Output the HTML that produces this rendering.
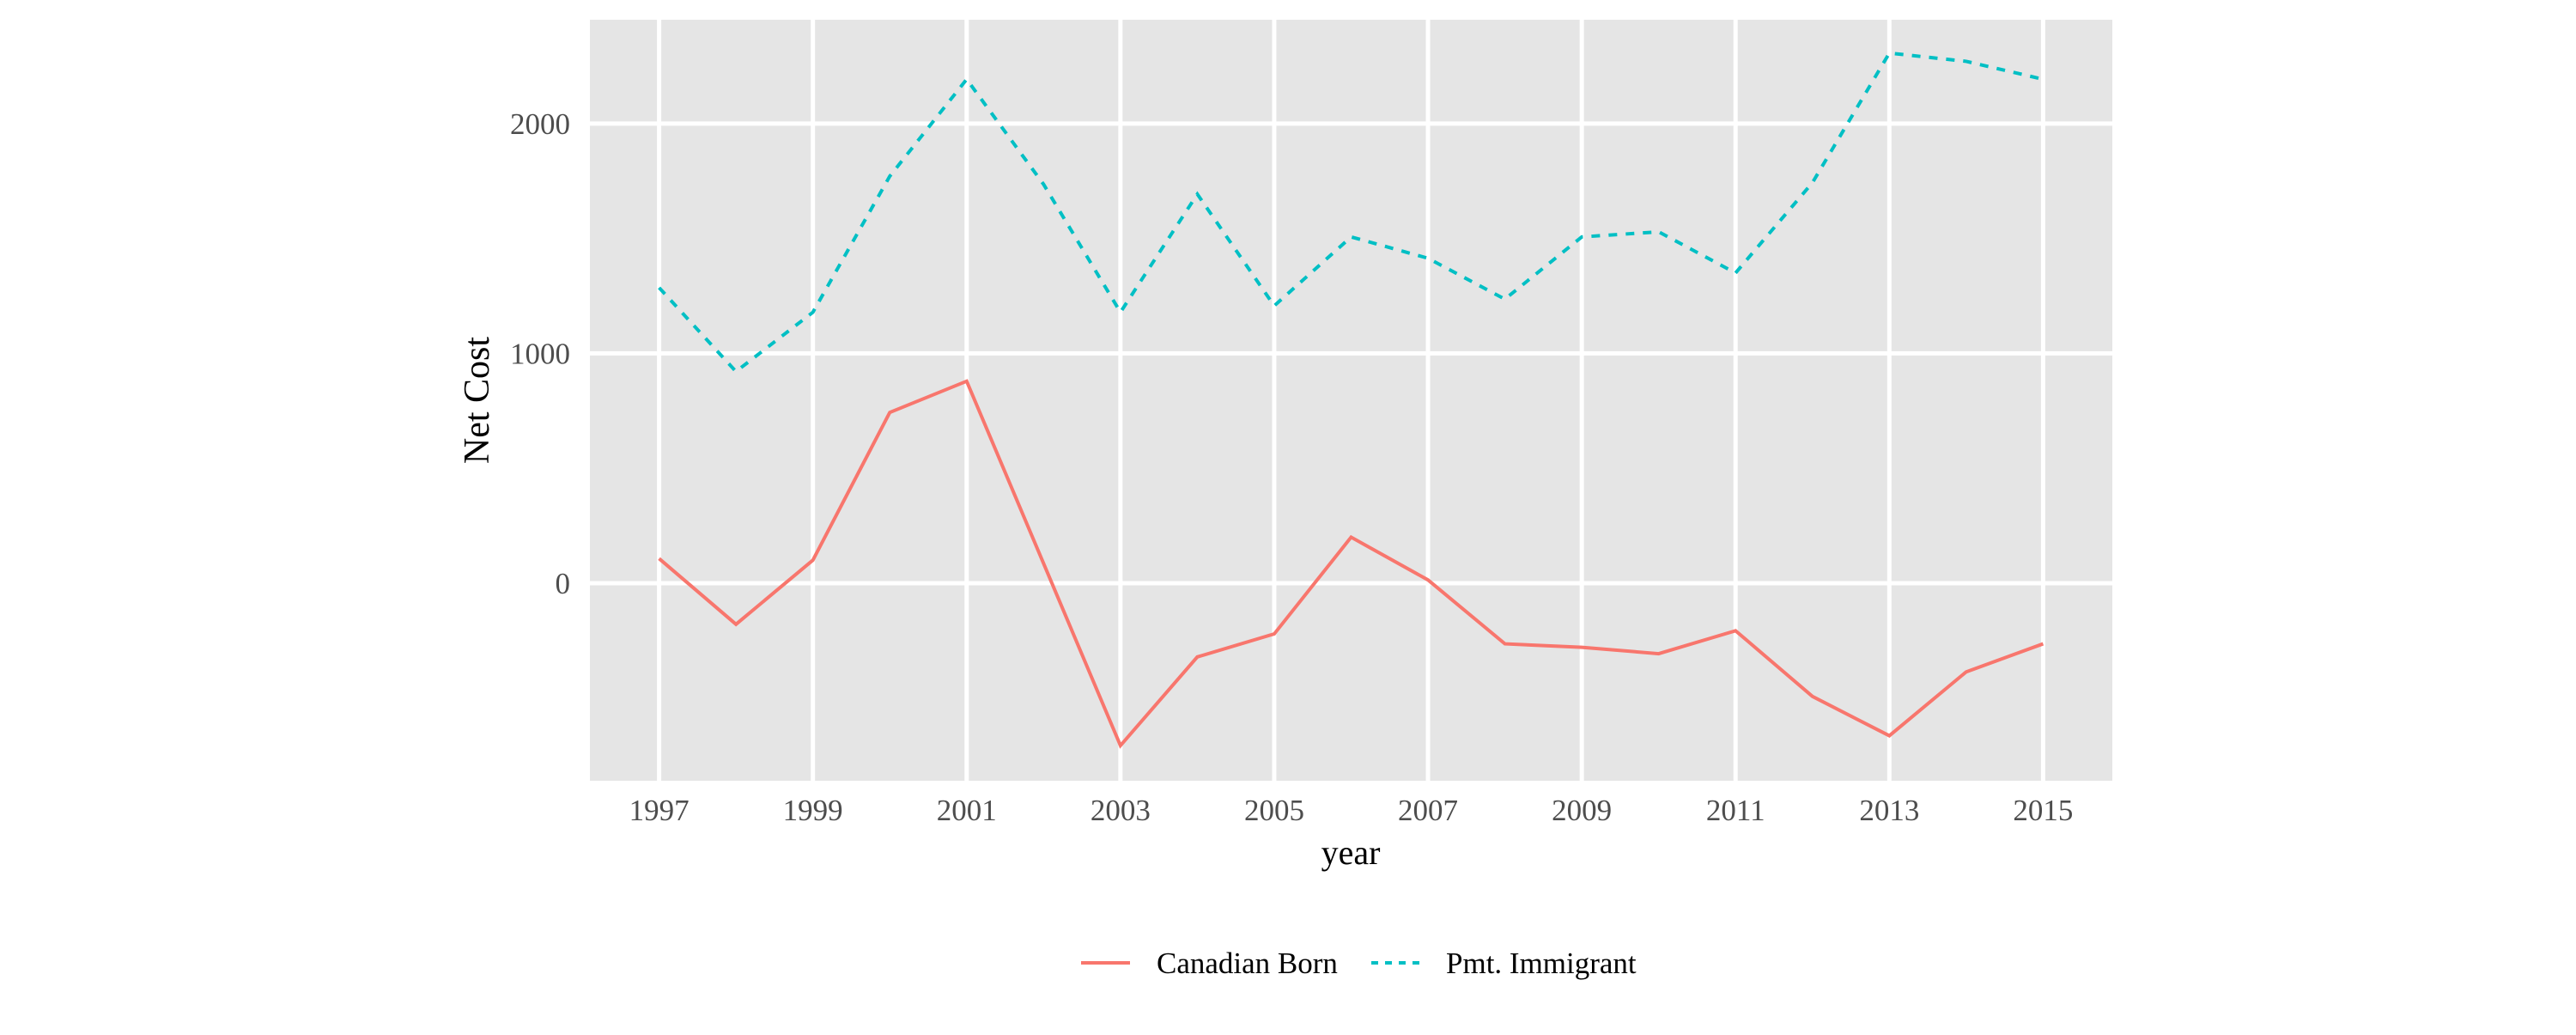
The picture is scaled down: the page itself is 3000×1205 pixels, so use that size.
<!DOCTYPE html>
<html><head><meta charset="utf-8"><style>
html,body{margin:0;padding:0;background:#fff;}
svg text{font-family:"Liberation Serif",serif;}
</style></head><body>
<svg id="chart" width="3000" height="1200" viewBox="0 0 3000 1200" xmlns="http://www.w3.org/2000/svg">
<rect x="687" y="23" width="1773" height="886" fill="#e5e5e5"/>
<g id="grid"></g>
<g id="series"></g>
<g id="ticks"></g>
<text x="556" y="466" font-size="42" text-anchor="middle" transform="rotate(-90 556 466)" dominant-baseline="central">Net Cost</text>
<text x="1573" y="1006" font-size="40" text-anchor="middle">year</text>
<g>
<line x1="1259" y1="1121" x2="1316" y2="1121" stroke="#F8766D" stroke-width="4"/>
<text x="1347" y="1133" font-size="35">Canadian Born</text>
<line x1="1597" y1="1121" x2="1655" y2="1121" stroke="#00BFC4" stroke-width="4" stroke-dasharray="8,8"/>
<text x="1684" y="1133" font-size="35">Pmt. Immigrant</text>
</g>
</svg>
<script>
const years=[1997,1998,1999,2000,2001,2002,2003,2004,2005,2006,2007,2008,2009,2010,2011,2012,2013,2014,2015];
const canadianBorn=[107,-179,100,743,879,86,-707,-321,-221,200,14,-264,-279,-307,-207,-493,-664,-386,-264];
const pmtImmigrant=[1286,921,1179,1771,2193,1736,1179,1693,1207,1507,1414,1236,1507,1529,1350,1743,2307,2271,2193];
const yTicks=[0,1000,2000];
const xTicks=[1997,1999,2001,2003,2005,2007,2009,2011,2013,2015];
const NS="http://www.w3.org/2000/svg";
const X0=687,X1=2460,Y0=23,Y1=909;
const xMin=1996.1,xMax=2015.9,yMin=-860,yMax=2452;
function sx(v){return X0+(v-xMin)/(xMax-xMin)*(X1-X0);}
function sy(v){return Y1-(v-yMin)/(yMax-yMin)*(Y1-Y0);}
function mk(tag,attrs,parent){const e=document.createElementNS(NS,tag);for(const k in attrs)e.setAttribute(k,attrs[k]);parent.appendChild(e);return e;}
const grid=document.getElementById('grid'),ticks=document.getElementById('ticks'),series=document.getElementById('series');
xTicks.forEach(v=>{
 const l=mk('line',{x1:sx(v),x2:sx(v),y1:Y0,y2:Y1,stroke:'#fff','stroke-width':5},grid);
 
 
 const tx=mk('text',{x:sx(v),y:955,'font-size':35,'text-anchor':'middle',fill:'#4d4d4d'},ticks);
 tx.textContent=v;
 
 
});
yTicks.forEach(v=>{
 const l=mk('line',{x1:X0,x2:X1,y1:sy(v),y2:sy(v),stroke:'#fff','stroke-width':5},grid);
 
 
 const tx=mk('text',{x:664,y:sy(v)+12,'font-size':35,'text-anchor':'end',fill:'#4d4d4d'},ticks);
 tx.textContent=v;
 
 
});
function pts(arr){return arr.map((v,i)=>sx(years[i])+','+sy(v)).join(' ');}
const p1=mk('polyline',{points:pts(pmtImmigrant),fill:'none',stroke:'#00BFC4','stroke-width':4,'stroke-dasharray':'10,10'},series);


const p2=mk('polyline',{points:pts(canadianBorn),fill:'none',stroke:'#F8766D','stroke-width':4},series);


</script>
</body></html>
